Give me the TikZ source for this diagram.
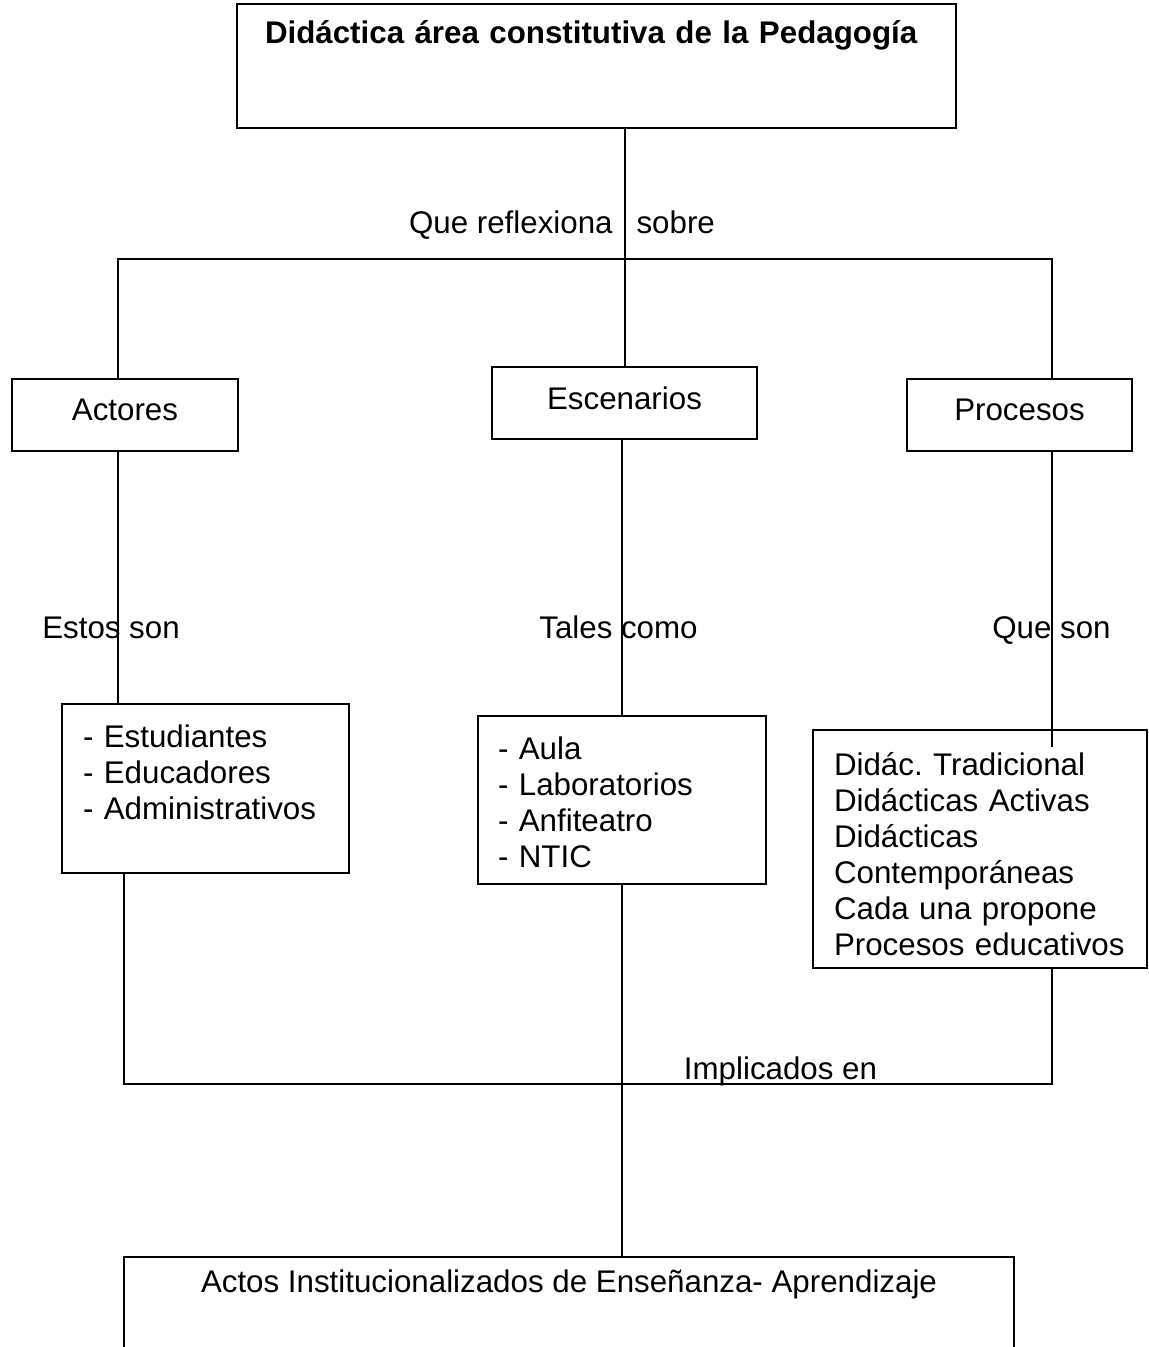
\documentclass[tikz,border=0pt]{standalone}
\usepackage{fontspec}
\setmainfont{Liberation Sans}
\frenchspacing
\newcommand{\fsz}{\fontsize{15.65pt}{18pt}\selectfont}
\tikzset{
  box/.style={draw, line width=1pt, inner sep=0pt, font=\fsz},
  headbox/.style={box, minimum height=36pt, text depth=5pt},
  listbox/.style={box, anchor=north west, align=left},
  lbl/.style={font=\fsz, inner sep=0pt, anchor=base},
  link/.style={line width=1pt},
}

\begin{document}
\begin{tikzpicture}[x=0.5pt,y=-0.5pt]
        \clip (0,0) rectangle (1148,1347);
        \node[box,anchor=north west,font=\fsz\bfseries,align=left,inner xsep=14pt,
              text width=331.5pt,text height=20pt,text depth=42pt] (top) at (236,3)
              {Didáctica área constitutiva de la Pedagogía};
        \node[headbox,minimum width=113pt] (act) at (125,415) {Actores};
        \node[headbox,minimum width=132.5pt] (esc) at (624.5,403) {Escenarios};
        \node[headbox,minimum width=112.5pt] (pro) at (1019.5,415) {Procesos};
        \node[listbox,inner xsep=10.5pt,text width=122.5pt,text height=21.5pt,text depth=63pt]
              (actlist) at (61,703) {- Estudiantes\\- Educadores\\- Administrativos};
        \node[listbox,inner xsep=10pt,text width=124pt,text height=21.5pt,text depth=62.5pt]
              (esclist) at (477,715) {- Aula\\- Laboratorios\\- Anfiteatro\\- NTIC};
        \node[listbox,inner xsep=10.5pt,text width=146pt,text height=22.5pt,text depth=96.5pt]
              (prolist) at (812,729) {Didác. Tradicional\\Didácticas Activas\\Didácticas\\
              Contemporáneas\\Cada una propone\\Procesos educativos};
        \node[box,anchor=north,minimum width=445pt,text height=17.5pt,text depth=100pt]
              (bot) at (569,1256) {Actos Institucionalizados de Enseñanza- Aprendizaje};
        \node[lbl] (sobre) at (562,234) {Que reflexiona\hspace{12pt}sobre};
        \node[lbl] (estos) at (111,638) {Estos son};
        \node[lbl] (tales) at (618.5,638) {Tales como};
        \node[lbl] (queson) at (1051.5,638) {Que son};
        \node[lbl] (impl) at (780.5,1079) {Implicados en};
        \coordinate (barl) at (118,259);
        \coordinate (barr) at (1052,259);
        \coordinate (pj) at (1052,747);
        \coordinate (bl) at (124,1084);
        \coordinate (br) at (1052,1084);
        \draw[link] (esc.north |- top.south) -- (esc.north);
        \draw[link] (barl |- act.north) -- (barl) -- (barr) -- (barr |- pro.north);
        \draw[link] (barl |- act.south) -- (barl |- actlist.north);
        \draw[link] (esclist.north |- esc.south) -- (esclist.north);
        \draw[link] (pj |- pro.south) -- (pj);
        \draw[link] (bl |- actlist.south) -- (bl) -- (br) -- (br |- prolist.south);
        \draw[link] (esclist.south) -- (esclist.south |- bot.north);
      \end{tikzpicture}
\end{document}
